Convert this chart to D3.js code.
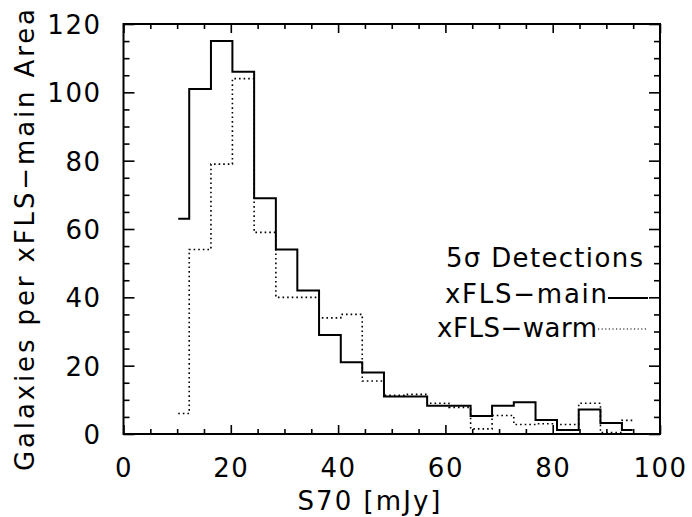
<!DOCTYPE html>
<html>
<head>
<meta charset="utf-8">
<script src="https://cdn.jsdelivr.net/npm/d3@7"></script>
<style>
  body { margin: 0; background: #fff; }
  text { font-family: 'DejaVu Sans', sans-serif; fill: #000; }
</style>
</head>
<body>
<svg id="chart" width="692" height="517"></svg>
<script>
// bin centres (mJy) and counts
const binCentres = [10.2, 14.3, 18.3, 22.3, 26.4, 30.4, 34.4, 38.5, 42.5, 46.5, 50.6,
  54.6, 58.6, 62.7, 66.7, 70.7, 74.8, 78.8, 82.8, 86.9, 90.9, 94.9]
const mainCounts = [63, 101, 115, 106, 69, 54, 42, 29, 21, 18, 11,
  11, 8.3, 8.3, 5.3, 8.3, 9.3, 4.1, 1.2, 7.2, 3.2, 1.2]
const warmCounts = [6, 54, 79, 104, 59, 40, 40, 34, 35, 15.5, 11.3,
  11.6, 9, 7.8, 1.5, 5.4, 2.8, 3, 2.8, 9, 0.4, 4]

const xTicks = [0, 20, 40, 60, 80, 100]
const xMinor = [5, 10, 15, 25, 30, 35, 45, 50, 55, 65, 70, 75, 85, 90, 95]
const yTicks = [0, 20, 40, 60, 80, 100, 120]
const yMinor = [5, 10, 15, 25, 30, 35, 45, 50, 55, 65, 70, 75, 85, 90, 95, 105, 110, 115]

const legendTitle = '5\u03c3 Detections'
const seriesNames = ['xFLS\u2212main', 'xFLS\u2212warm']

const margin = { top: 24, right: 32, bottom: 83, left: 123.5 }
const width = 692 - margin.left - margin.right
const height = 517 - margin.top - margin.bottom

const svg = d3.select('#chart')

const xScale = d3.scaleLinear()
  .domain([0, 100])
  .range([margin.left, margin.left + width])

const yScale = d3.scaleLinear()
  .domain([0, 120])
  .range([margin.top + height, margin.top])

const linegen = d3.line()
  .x(d => xScale(d[0]))
  .y(d => yScale(d[1]))
  .curve(d3.curveStep)

const mainData = binCentres.map((c, i) => [c, mainCounts[i]])
const warmData = binCentres.map((c, i) => [c, warmCounts[i]])

const graph = svg.append('g')

graph.append('path')
  .attr('d', linegen(warmData))
  .attr('fill', 'none')
  .attr('stroke', '#000')
  .attr('stroke-width', 1.6)
  .attr('stroke-dasharray', '1.6 3')

graph.append('path')
  .attr('d', linegen(mainData))
  .attr('fill', 'none')
  .attr('stroke', '#000')
  .attr('stroke-width', 2)

// axes: ticks point inwards on all four sides
const fontSize = 26
const axisLine = g => {
  g.select('.domain').remove()
  g.selectAll('line').attr('stroke', '#000').attr('stroke-width', 1.6)
}
const tickText = g => g.selectAll('text')
  .attr('font-size', fontSize)
  .attr('font-family', 'DejaVu Sans')
  .attr('letter-spacing', 1.5)

svg.append('g')
  .attr('transform', `translate(0, ${margin.top + height})`)
  .call(d3.axisBottom(xScale).tickValues(xTicks).tickSize(-9).tickPadding(25).tickFormat(d3.format('d')))
  .call(axisLine)
  .call(tickText)

svg.append('g')
  .attr('transform', `translate(0, ${margin.top + height})`)
  .call(d3.axisBottom(xScale).tickValues(xMinor).tickSize(-5).tickFormat(''))
  .call(axisLine)

svg.append('g')
  .attr('transform', `translate(0, ${margin.top})`)
  .call(d3.axisTop(xScale).tickValues(xTicks).tickSize(-9).tickFormat(''))
  .call(axisLine)

svg.append('g')
  .attr('transform', `translate(0, ${margin.top})`)
  .call(d3.axisTop(xScale).tickValues(xMinor).tickSize(-5).tickFormat(''))
  .call(axisLine)

svg.append('g')
  .attr('transform', `translate(${margin.left}, 0)`)
  .call(d3.axisLeft(yScale).tickValues(yTicks).tickSize(-11).tickPadding(22).tickFormat(d3.format('d')))
  .call(axisLine)
  .call(tickText)
  .call(g => g.selectAll('text').attr('dy', '0.36em'))

svg.append('g')
  .attr('transform', `translate(${margin.left}, 0)`)
  .call(d3.axisLeft(yScale).tickValues(yMinor).tickSize(-6).tickFormat(''))
  .call(axisLine)

svg.append('g')
  .attr('transform', `translate(${margin.left + width}, 0)`)
  .call(d3.axisRight(yScale).tickValues(yTicks).tickSize(-11).tickFormat(''))
  .call(axisLine)

svg.append('g')
  .attr('transform', `translate(${margin.left + width}, 0)`)
  .call(d3.axisRight(yScale).tickValues(yMinor).tickSize(-6).tickFormat(''))
  .call(axisLine)

// frame
svg.append('rect')
  .attr('x', margin.left)
  .attr('y', margin.top)
  .attr('width', width)
  .attr('height', height)
  .attr('fill', 'none')
  .attr('stroke', '#000')
  .attr('stroke-width', 2)

// axis titles
svg.append('text')
  .text('S70 [mJy]')
  .attr('x', 369)
  .attr('y', 510)
  .attr('text-anchor', 'middle')
  .attr('font-size', fontSize)
  .attr('textLength', 143)
  .attr('lengthAdjust', 'spacing')

svg.append('text')
  .text('Galaxies per xFLS\u2212main Area')
  .attr('transform', 'translate(34, 240) rotate(-90)')
  .attr('text-anchor', 'middle')
  .attr('font-size', fontSize)
  .attr('textLength', 462)
  .attr('lengthAdjust', 'spacing')

// legend
const legend = svg.append('g')

legend.append('text')
  .text(legendTitle)
  .attr('x', 643)
  .attr('y', 267)
  .attr('text-anchor', 'end')
  .attr('font-size', fontSize)
  .attr('textLength', 197)
  .attr('lengthAdjust', 'spacing')

const legendRows = [
  { name: seriesNames[0], y: 303, lineY: 298, x: 607, len: 162, dash: null, sw: 2 },
  { name: seriesNames[1], y: 337, lineY: 329, x: 597, len: 160, dash: '1.2 2.4', sw: 1.2 }
]

legendRows.forEach(r => {
  legend.append('text')
    .text(r.name)
    .attr('x', r.x)
    .attr('y', r.y)
    .attr('text-anchor', 'end')
    .attr('font-size', fontSize)
    .attr('textLength', r.len)
    .attr('lengthAdjust', 'spacing')
  legend.append('line')
    .attr('x1', r.x + 1)
    .attr('x2', 648)
    .attr('y1', r.lineY)
    .attr('y2', r.lineY)
    .attr('stroke', '#000')
    .attr('stroke-width', r.sw)
    .attr('stroke-dasharray', r.dash)
})
</script>
</body>
</html>
